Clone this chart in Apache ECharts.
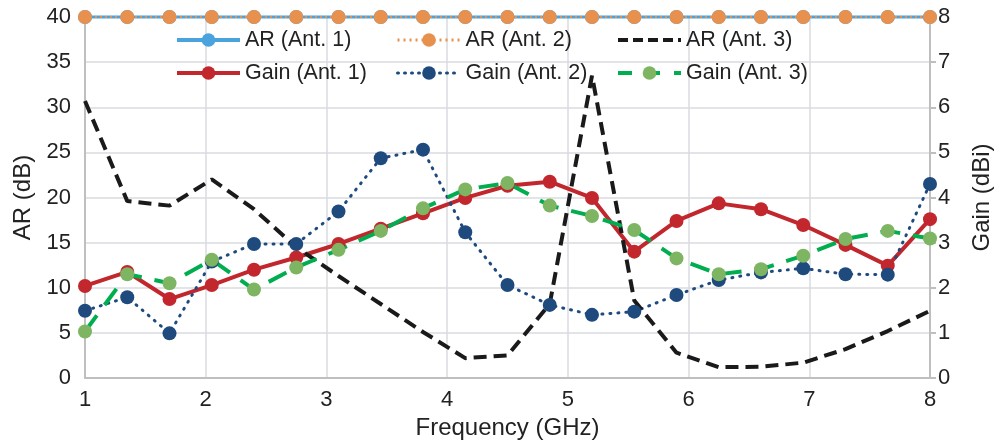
<!DOCTYPE html>
<html>
<head>
<meta charset="utf-8">
<script src="https://cdn.jsdelivr.net/npm/echarts@6/dist/echarts.min.js"></script>
<style>
  html, body { margin: 0; padding: 0; background: #fff; }
  #chart { width: 995px; height: 442px; }
</style>
</head>
<body>
<div id="chart"></div>
<script>
// frequency points (GHz)
const freq = [1, 1.35, 1.7, 2.05, 2.4, 2.75, 3.1, 3.45, 3.8, 4.15, 4.5, 4.85, 5.2, 5.55, 5.9, 6.25, 6.6, 6.95, 7.3, 7.65, 8];

// AR (dB) - ant 1 and 2 are off the top of the scale
const arAnt1 = [40, 40, 40, 40, 40, 40, 40, 40, 40, 40, 40, 40, 40, 40, 40, 40, 40, 40, 40, 40, 40];
const arAnt2 = [40, 40, 40, 40, 40, 40, 40, 40, 40, 40, 40, 40, 40, 40, 40, 40, 40, 40, 40, 40, 40];
const arAnt3 = [30.7, 19.6, 19.1, 22.0, 18.7, 14.5, 11.3, 8.2, 5.1, 2.2, 2.5, 8.2, 33.5, 8.6, 2.8, 1.2, 1.25, 1.7, 3.2, 5.2, 7.45];

// Gain (dBi)
const gainAnt1 = [2.04, 2.35, 1.75, 2.06, 2.40, 2.67, 2.97, 3.31, 3.65, 3.99, 4.26, 4.35, 3.99, 2.80, 3.48, 3.87, 3.74, 3.39, 2.95, 2.49, 3.52];
const gainAnt2 = [1.49, 1.79, 0.99, 2.58, 2.97, 2.97, 3.69, 4.87, 5.06, 3.23, 2.06, 1.62, 1.40, 1.47, 1.84, 2.17, 2.34, 2.43, 2.30, 2.29, 4.30];
const gainAnt3 = [1.03, 2.30, 2.10, 2.62, 1.96, 2.45, 2.84, 3.26, 3.76, 4.18, 4.32, 3.82, 3.59, 3.28, 2.65, 2.30, 2.41, 2.71, 3.08, 3.26, 3.09];

const pairs = ys => freq.map((f, i) => [f, ys[i]]);

const FONT = 'Liberation Sans';
const axisGray = '#bfbfbf';
const gridGray = '#d9dbe0';

function legendAt(item, left, top) {
  return {
    data: [item], left: left, top: top, padding: 0,
    itemWidth: 63, itemHeight: 17,
    textStyle: { fontFamily: FONT, fontSize: 21.5, color: '#222' }
  };
}

const chart = echarts.init(document.getElementById('chart'));
chart.setOption({
  animation: false,
  textStyle: { fontFamily: FONT },
  grid: { left: 85, right: 65, top: 17, bottom: 64, outerBoundsMode: 'none' },
  legend: [
    legendAt({ name: 'AR (Ant. 1)', lineStyle: { width: 4 } }, 175, 29),
    legendAt({ name: 'AR (Ant. 2)', lineStyle: { width: 3, type: [2, 4] } }, 396, 29),
    legendAt({ name: 'AR (Ant. 3)', itemStyle: { opacity: 0 }, lineStyle: { width: 4, type: [10, 5] } }, 616, 29),
    legendAt({ name: 'Gain (Ant. 1)', lineStyle: { width: 4 } }, 175, 62),
    legendAt({ name: 'Gain (Ant. 2)', lineStyle: { width: 3, type: [1, 6] } }, 396, 62),
    legendAt({ name: 'Gain (Ant. 3)', lineStyle: { width: 4, type: [14, 14] } }, 616, 62)
  ],
  xAxis: {
    type: 'value', min: 1, max: 8, interval: 1,
    name: 'Frequency (GHz)', nameLocation: 'middle', nameGap: 34,
    nameTextStyle: { fontSize: 24, color: '#222' },
    axisLine: { lineStyle: { color: axisGray, width: 2 } },
    axisTick: { show: false },
    axisLabel: { fontSize: 22, color: '#222', margin: 11 },
    splitLine: { lineStyle: { color: gridGray, width: 1.5 } }
  },
  yAxis: [
    {
      type: 'value', min: 0, max: 40, interval: 5,
      name: 'AR (dB)', nameLocation: 'middle', nameGap: 47,
      nameTextStyle: { fontSize: 24, color: '#222' },
      axisLine: { show: true, lineStyle: { color: axisGray, width: 2 } },
      axisTick: { show: false },
      axisLabel: { fontSize: 22, color: '#222', margin: 14 },
      splitLine: { lineStyle: { color: gridGray, width: 1.5 } }
    },
    {
      type: 'value', min: 0, max: 8, interval: 1, position: 'right',
      name: 'Gain (dBi)', nameLocation: 'middle', nameGap: 40,
      nameTextStyle: { fontSize: 24, color: '#222' },
      axisLine: { show: true, lineStyle: { color: axisGray, width: 2 } },
      axisTick: { show: true, length: 6, lineStyle: { color: axisGray, width: 2 } },
      axisLabel: { fontSize: 22, color: '#222', margin: 8 },
      splitLine: { show: false }
    }
  ],
  series: [
    {
      name: 'AR (Ant. 1)', type: 'line', yAxisIndex: 0, data: pairs(arAnt1), clip: false,
      symbol: 'circle', symbolSize: 14,
      lineStyle: { color: '#4aa3dc', width: 3 }, itemStyle: { color: '#4aa3dc' }
    },
    {
      name: 'AR (Ant. 2)', type: 'line', yAxisIndex: 0, data: pairs(arAnt2), clip: false,
      symbol: 'circle', symbolSize: 14,
      lineStyle: { color: '#e8914f', width: 2, type: [2, 3] }, itemStyle: { color: '#e8914f' }
    },
    {
      name: 'Gain (Ant. 1)', type: 'line', yAxisIndex: 1, data: pairs(gainAnt1),
      symbol: 'circle', symbolSize: 14,
      lineStyle: { color: '#c1272d', width: 4 }, itemStyle: { color: '#c1272d' }
    },
    {
      name: 'Gain (Ant. 2)', type: 'line', yAxisIndex: 1, data: pairs(gainAnt2),
      symbol: 'circle', symbolSize: 14,
      lineStyle: { color: '#1f4a7e', width: 3, type: [1, 7], cap: 'round' }, itemStyle: { color: '#1f4a7e' }
    },
    {
      name: 'AR (Ant. 3)', type: 'line', yAxisIndex: 0, data: pairs(arAnt3),
      symbol: 'none',
      lineStyle: { color: '#1a1a1a', width: 4, type: [13, 7] }, itemStyle: { color: '#1a1a1a' }
    },
    {
      name: 'Gain (Ant. 3)', type: 'line', yAxisIndex: 1, data: pairs(gainAnt3),
      symbol: 'circle', symbolSize: 14,
      lineStyle: { color: '#00ad4f', width: 4, type: [20, 13] }, itemStyle: { color: '#7db562' }
    }
  ]
});
</script>
</body>
</html>
